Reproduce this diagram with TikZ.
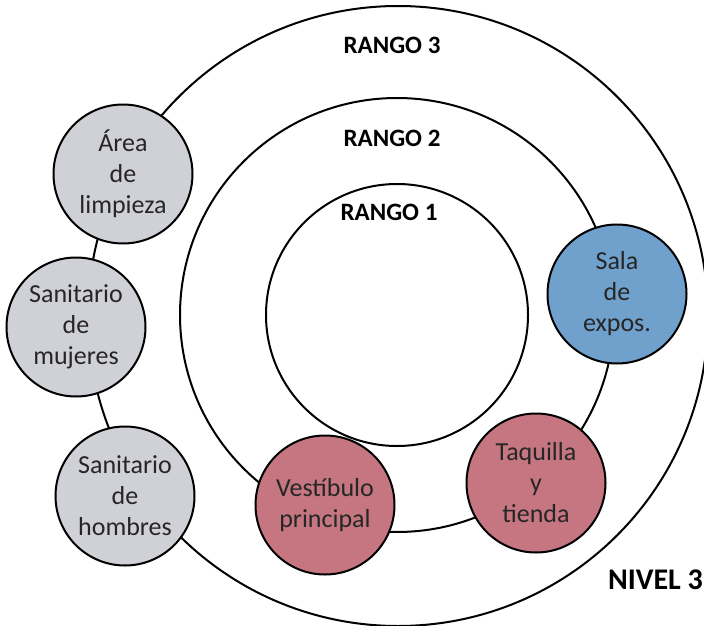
\documentclass[tikz,border=0pt]{standalone}
\usepackage{fontspec}
\setmainfont{Carlito}

\definecolor{roomgray}{RGB}{208,209,214}
\definecolor{roomblue}{RGB}{112,160,204}
\definecolor{roomred}{RGB}{197,118,128}

\tikzset{
  ring/.style={circle,draw,line width=2pt,inner sep=0pt},
  room/.style={circle,draw,line width=2pt,inner sep=0pt,minimum size=139pt,
    align=center,text=black!85,font=\fontsize{26}{31}\selectfont},
  rango/.style={font=\bfseries\fontsize{25}{29}\selectfont}
}

\begin{document}
\begin{tikzpicture}[x=1pt,y=-1pt]
  \useasboundingbox (0,0) rectangle (704,626);

  % Rings
  \node[ring,minimum size=620pt] (nivel) at (398,316) {};
  \node[ring,minimum size=434pt] (rango2) at (397,315) {};
  \node[ring,minimum size=262pt] (rango1) at (397,315) {};

  % Ring labels
  \node[rango] (lbl3) at (392,45) {RANGO 3};
  \node[rango] (lbl2) at (392,138) {RANGO 2};
  \node[rango] (lbl1) at (389,212) {RANGO 1};
  \node[rango,font=\bfseries\fontsize{30}{34}\selectfont,anchor=east,inner xsep=1pt] (lblnivel) at (704,580) {NIVEL 3};

  % Rooms on the outer ring
  \node[room,fill=roomgray] (limpieza) at (123,174) {Área\\de\\limpieza};
  \node[room,fill=roomgray] (mujeres) at (76,327) {Sanitario\\de\\mujeres};
  \node[room,fill=roomgray] (hombres) at (125,496) {Sanitario\\de\\hombres};

  % Rooms on the middle ring
  \node[room,fill=roomblue] (expos) at (617,294) {Sala\\de\\expos.};
  \node[room,fill=roomred] (taquilla) at (536,483) {Taquilla\\y\\tienda};
  \node[room,fill=roomred] (vestibulo) at (325,505) {Vestíbulo\\principal};
\end{tikzpicture}
\end{document}
